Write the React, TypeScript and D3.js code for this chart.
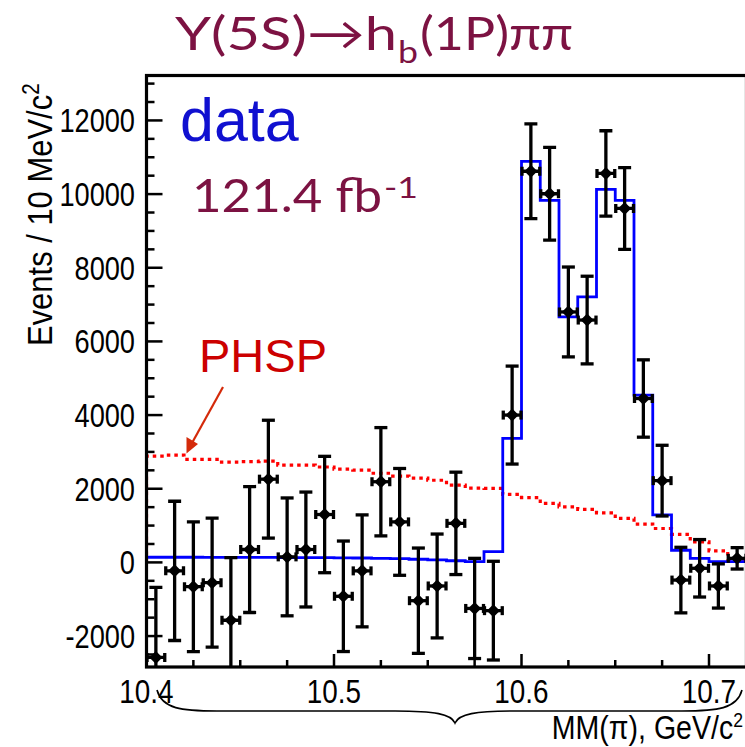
import React from "react";
import * as d3 from "d3";

// ---- data ----
const binCenters = [
  10.405, 10.415, 10.425, 10.435, 10.445, 10.455, 10.465, 10.475, 10.485, 10.495,
  10.505, 10.515, 10.525, 10.535, 10.545, 10.555, 10.565, 10.575, 10.585, 10.595,
  10.605, 10.615, 10.625, 10.635, 10.645, 10.655, 10.665, 10.675, 10.685, 10.695,
  10.705, 10.715,
];
const dataValues = [
  -2580, -230, -660, -550, -1570, 350, 2260, 150, 350, 1300,
  -920, -230, 2190, 1100, -1040, -640, 1060, -1250, -1310, 4000,
  10620, 10010, 6800, 6580, 10560, 9610, 4450, 2220, -480, -160,
  -640, 110,
];
const dataErrors = [
  1900, 1890, 1760, 1750, 1700, 1710, 1600, 1600, 1560, 1580,
  1500, 1520, 1470, 1450, 1430, 1410, 1390, 1360, 1340, 1330,
  1285, 1260, 1220, 1190, 1160, 1110, 1050, 960, 890, 780,
  600, 290,
];
const fitValues = [
  140, 140, 140, 138, 137, 135, 134, 132, 130, 128,
  125, 120, 110, 100, 85, 70, 45, 20, 295, 3370,
  10890, 9830, 6665, 7210, 10130, 9830, 4540, 1290, 330, 110,
  20, 20,
];
const phspValues = [
  2885, 2910, 2800, 2800, 2720, 2735, 2750, 2640, 2640, 2590,
  2530, 2505, 2420, 2340, 2290, 2230, 2100, 2015, 2008, 1845,
  1760, 1600, 1510, 1440, 1345, 1195, 1040, 920, 760, 560,
  315, 62,
];
const binHalfWidth = 0.005;
const xTickLabels = ["10.4", "10.5", "10.6", "10.7"];
const yTickLabels = ["-2000", "0", "2000", "4000", "6000", "8000", "10000", "12000"];

// ---- layout ----
const W = 745;
const H = 747;
const left = 146.5;
const right = 746.5;
const top = 75.5;
const bottom = 667;

const x = d3.scaleLinear().domain([10.4, 10.72]).range([left, right]);
const y = d3.scaleLinear().domain([-2840, 13220]).range([bottom, top]);

const MAROON = "#7c1242";
const TICKFONT = "'Liberation Sans', Arial, Helvetica, sans-serif";
const TITLEFONT = "'Comic Sans MS', Lato, 'Noto Sans', sans-serif";

function stepPath(values: number[]): string {
  const pts: [number, number][] = [];
  pts.push([x(binCenters[0] - binHalfWidth), y(0)]);
  values.forEach((v, i) => {
    pts.push([x(binCenters[i] - binHalfWidth), y(v)]);
    pts.push([x(binCenters[i] + binHalfWidth), y(v)]);
  });
  const line = d3.line<[number, number]>().x((d) => d[0]).y((d) => d[1]);
  return line(pts) || "";
}

export default function App() {
  const majorX = xTickLabels.map(Number);
  const minorX = d3.range(10.4, 10.7201, 0.025).filter(
    (v) => !majorX.some((m) => Math.abs(m - v) < 1e-6)
  );
  const majorY = yTickLabels.map(Number);
  const minorY = d3.range(-2500, 13001, 500).filter((v) => !majorY.includes(v));

  const fitD = stepPath(fitValues);
  const phspD = stepPath(phspValues);

  // brace geometry
  const bL = 157, bR = 742, bMid = 455, bY = 711, bTip = 723, bTop = 690;
  const braceD =
    `M${bL},${bTop} C${bL + 5},${bY - 2} ${bL + 25},${bY} ${bL + 60},${bY}` +
    ` L${bMid - 60},${bY} C${bMid - 20},${bY} ${bMid - 4},${bY + 3} ${bMid},${bTip}` +
    ` C${bMid + 4},${bY + 3} ${bMid + 20},${bY} ${bMid + 60},${bY}` +
    ` L${bR - 60},${bY} C${bR - 25},${bY} ${bR - 5},${bY - 2} ${bR},${bTop}`;

  return (
    <svg
      width={W}
      height={H}
      viewBox={`0 0 ${W} ${H}`}
      style={{ position: "absolute", left: 0, top: 0, background: "#fff" }}
    >
      <defs>
        <clipPath id="plotclip">
          <rect x={left} y={top} width={right - left} height={bottom - top} />
        </clipPath>
      </defs>
      <rect x={0} y={0} width={W} height={H} fill="#fff" />

      {/* Title */}
      <g fill={MAROON} fontFamily={TITLEFONT}>
        <text x={175} y={50} fontSize={46} textLength={222} lengthAdjust="spacingAndGlyphs">
          Υ(5S)→h
        </text>
        <text x={398} y={63} fontSize={30} textLength={20} lengthAdjust="spacingAndGlyphs">
          b
        </text>
        <text x={420} y={50} fontSize={46} textLength={153} lengthAdjust="spacingAndGlyphs">
          (1P)ππ
        </text>
      </g>

      {/* PHSP dotted histogram */}
      <g clipPath="url(#plotclip)">
        <path
          d={phspD}
          fill="none"
          stroke="#ff0000"
          strokeWidth={3.2}
          strokeDasharray="3.5,4"
        />
        {/* fit histogram */}
        <path d={fitD} fill="none" stroke="#0000ff" strokeWidth={2.8} />

        {/* data points */}
        <g stroke="#000" strokeWidth={3.3} fill="#000">
          {binCenters.map((c, i) => {
            const cx = x(c);
            const cy = y(dataValues[i]);
            const yt = y(dataValues[i] + dataErrors[i]);
            const yb = y(dataValues[i] - dataErrors[i]);
            const xl = x(c - binHalfWidth) + 0.5;
            const xr = x(c + binHalfWidth) - 0.5;
            return (
              <g key={i}>
                <line x1={cx} x2={cx} y1={yt} y2={yb} />
                <line x1={cx - 6.5} x2={cx + 6.5} y1={yt} y2={yt} />
                <line x1={cx - 6.5} x2={cx + 6.5} y1={yb} y2={yb} />
                <line x1={xl} x2={xr} y1={cy} y2={cy} />
                <line x1={xl} x2={xl} y1={cy - 4.5} y2={cy + 4.5} />
                <line x1={xr} x2={xr} y1={cy - 4.5} y2={cy + 4.5} />
                <path
                  d={`M${cx},${cy - 6.5} L${cx + 6.5},${cy} L${cx},${cy + 6.5} L${cx - 6.5},${cy} Z`}
                  stroke="none"
                />
              </g>
            );
          })}
        </g>
      </g>

      {/* Axes ticks */}
      <g stroke="#000" strokeWidth={2.5}>
        {majorY.map((v) => (
          <line key={"my" + v} x1={left} x2={left + 16} y1={y(v)} y2={y(v)} />
        ))}
        {minorY.map((v) => (
          <line key={"ny" + v} x1={left} x2={left + 8} y1={y(v)} y2={y(v)} />
        ))}
        {majorX.map((v) => (
          <line key={"mx" + v} x1={x(v)} x2={x(v)} y1={bottom} y2={bottom - 13} />
        ))}
        {minorX.map((v) => (
          <line key={"nx" + v} x1={x(v)} x2={x(v)} y1={bottom} y2={bottom - 7} />
        ))}
      </g>

      {/* Frame */}
      <rect
        x={left}
        y={top}
        width={right - left}
        height={bottom - top}
        fill="none"
        stroke="#000"
        strokeWidth={3.2}
      />

      {/* tick labels */}
      <g fontFamily={TICKFONT} fontSize={34} fill="#000">
        {yTickLabels.map((t) => (
          <text
            key={"yl" + t}
            transform={`translate(135,${y(Number(t)) + 12}) scale(0.8,1)`}
            textAnchor="end"
          >
            {t}
          </text>
        ))}
        {xTickLabels.map((t) => (
          <text
            key={"xl" + t}
            transform={`translate(${x(Number(t))},703) scale(0.82,1)`}
            textAnchor="middle"
          >
            {t}
          </text>
        ))}
      </g>

      {/* Y axis title */}
      <text
        transform="translate(52,346) rotate(-90) scale(0.86,1)"
        fontFamily={TICKFONT}
        fontSize={36}
        fill="#000"
      >
        Events / 10 MeV/c
        <tspan fontSize={24} dy={-13}>2</tspan>
      </text>

      {/* X axis title */}
      <text
        transform="translate(743,739) scale(0.84,1)"
        fontFamily={TICKFONT}
        fontSize={34}
        fill="#000"
        textAnchor="end"
      >
        MM(π), GeV/c
        <tspan fontSize={21} dy={-12}>2</tspan>
      </text>

      {/* Brace */}
      <path d={braceD} fill="none" stroke="#000" strokeWidth={1.6} />

      {/* data label */}
      <text x={180} y={141} fontFamily={TICKFONT} fontSize={61} fill="#1010d0">
        data
      </text>

      {/* luminosity */}
      <g fill={MAROON} fontFamily={TITLEFONT}>
        <text x={192} y={212} fontSize={46} textLength={190} lengthAdjust="spacingAndGlyphs">
          121.4 fb
        </text>
        <text x={384} y={198} fontSize={28} textLength={34} lengthAdjust="spacingAndGlyphs">
          -1
        </text>
      </g>

      {/* PHSP label + arrow */}
      <text x={199} y={372} fontFamily={TICKFONT} fontSize={47} fill="#cc0000">
        PHSP
      </text>
      <line x1={223} y1={387} x2={192} y2={443} stroke="#d42a0a" strokeWidth={2.2} />
      <path d="M186.5,453.5 L186.5,437 L198,444 Z" fill="#d42a0a" />
    </svg>
  );
}
